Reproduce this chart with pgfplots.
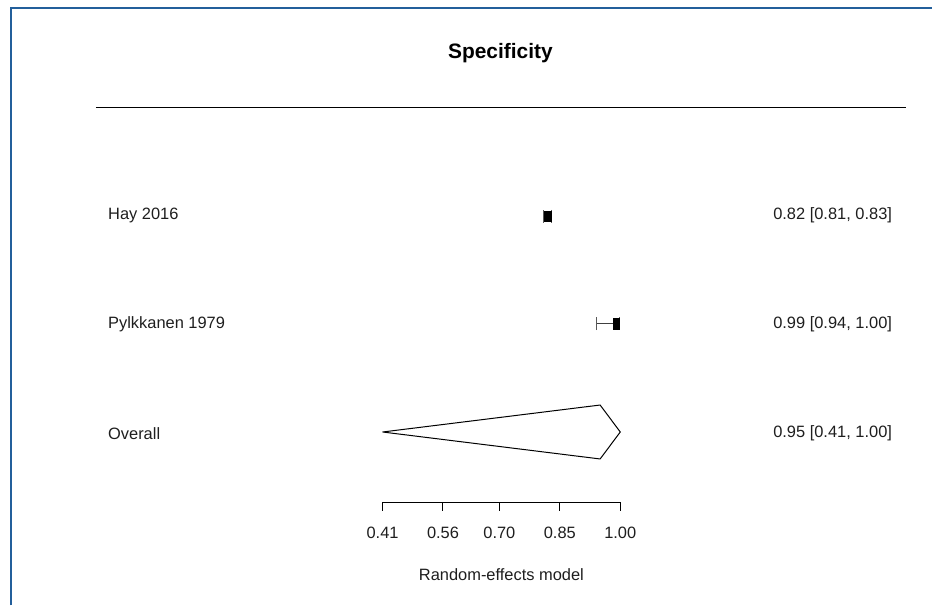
\documentclass[border=0pt]{standalone}
\usepackage{pgfplots}
\pgfplotsset{compat=1.18}
\usepackage{fontspec}
\setmainfont{Liberation Sans}
\definecolor{frameblue}{RGB}{35,95,155}
\definecolor{txt}{RGB}{30,30,30}
\tikzset{lab/.style={font=\fontsize{16.5}{19}\selectfont, text=txt, inner sep=0pt}}
\begin{document}
\begin{tikzpicture}
\begin{axis}[
  scale only axis, width=933bp, height=606bp,
  xmin=-0.53945, xmax=1.77345, ymin=0, ymax=606, y dir=reverse,
  axis lines=none, clip=false,
]
\path (rel axis cs:0,0) rectangle (rel axis cs:1,1);
% frame
\draw[frameblue, line width=2.2bp] (axis cs:-0.51218,606) -- (axis cs:-0.51218,8) -- (axis cs:1.77345,8);
% title and rule
\node[font=\bfseries\fontsize{21}{24}\selectfont, inner sep=0pt] at (axis cs:0.7025,53) {Specificity};
\draw[black, line width=1bp] (axis cs:-0.30147,108) -- (axis cs:1.70898,108);
% study estimates
\addplot[black, only marks, mark=square*, mark size=4.5bp, mark options={xscale=0.75, yscale=1.2},
  error bars/.cd, x dir=both, x explicit, error mark=|,
  error bar style={line width=1.2bp, black!75},
  error mark options={mark size=6.5bp, line width=1.2bp, black!65}]
  coordinates {
  (0.82,216.5) += (0.01,0) -= (0.01,0)
  (0.99,324) += (0.0075,0) -= (0.05,0)
  };
% overall diamond
\addplot[black, line width=1bp, sharp plot] coordinates {
  (0.41,432.5) (0.95,405.5) (1.00,432.5) (0.95,459.5) (0.41,432.5)};
% labels
\node[lab, anchor=west] at (axis cs:-0.2715,216) {Hay 2016};
\node[lab, anchor=west] at (axis cs:-0.2715,325) {Pylkkanen 1979};
\node[lab, anchor=west] at (axis cs:-0.2715,434) {Overall};
\node[lab, anchor=west] at (axis cs:1.3793,216) {0.82 [0.81, 0.83]};
\node[lab, anchor=west] at (axis cs:1.3793,325) {0.99 [0.94, 1.00]};
\node[lab, anchor=west] at (axis cs:1.3793,434) {0.95 [0.41, 1.00]};
% bottom axis
\draw[black, line width=1bp] (axis cs:0.41,503) -- (axis cs:1.00,503);
\draw[black, line width=1bp] (axis cs:0.41,503) -- (axis cs:0.41,512);
\draw[black, line width=1bp] (axis cs:0.56,503) -- (axis cs:0.56,512);
\draw[black, line width=1bp] (axis cs:0.70,503) -- (axis cs:0.70,512);
\draw[black, line width=1bp] (axis cs:0.85,503) -- (axis cs:0.85,512);
\draw[black, line width=1bp] (axis cs:1.00,503) -- (axis cs:1.00,512);
\node[lab] at (axis cs:0.41,533.5) {0.41};
\node[lab] at (axis cs:0.56,533.5) {0.56};
\node[lab] at (axis cs:0.70,533.5) {0.70};
\node[lab] at (axis cs:0.85,533.5) {0.85};
\node[lab] at (axis cs:1.00,533.5) {1.00};
\node[lab] at (axis cs:0.7050,575.5) {Random-effects model};
\end{axis}
\end{tikzpicture}
\end{document}
